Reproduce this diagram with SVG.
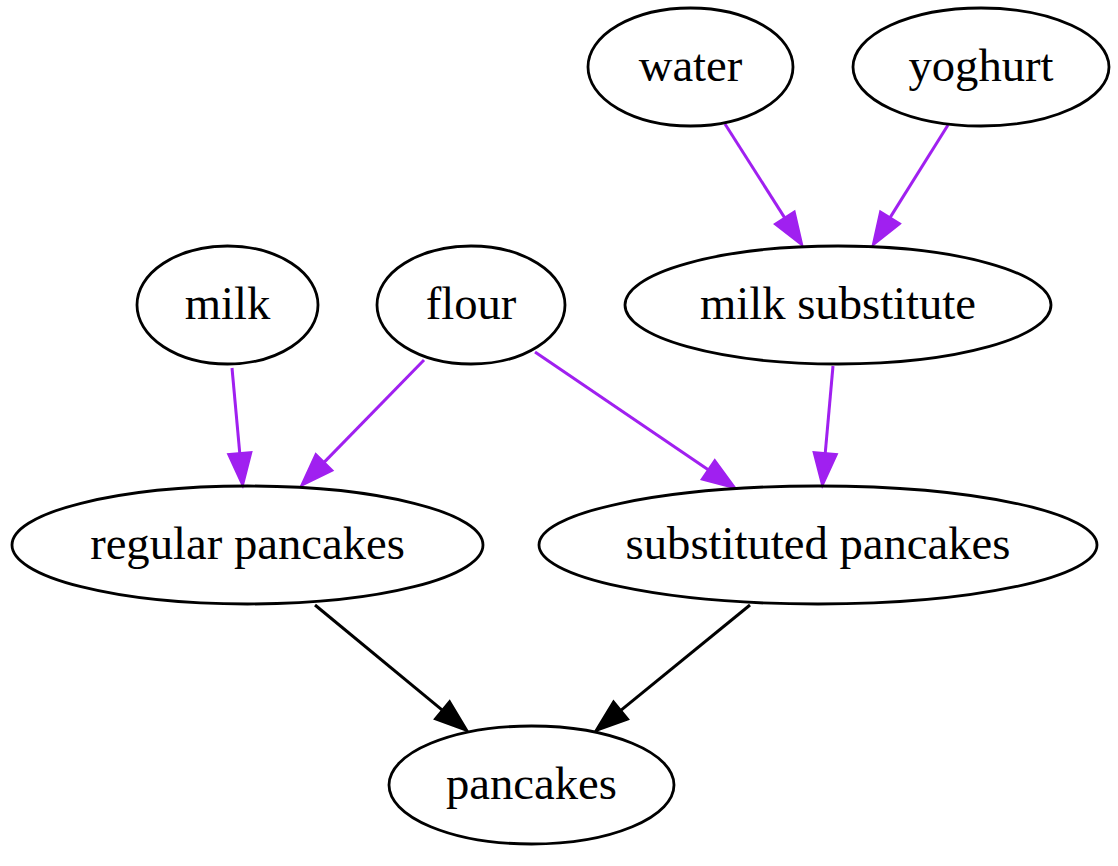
<svg xmlns="http://www.w3.org/2000/svg" width="1118" height="866" viewBox="0 0 1118 866">
<defs>
<style>
.n ellipse{fill:none;stroke:#000;stroke-width:2.8}
.n text{font-family:"Liberation Serif","Times New Roman",serif;font-size:46.67px;text-anchor:middle;fill:#000}
.e line{stroke-width:3}
.p{stroke:#a020f0}
.b{stroke:#000}
</style>
<marker id="ap" viewBox="0 0 31 24" refX="0" refY="12" markerWidth="31" markerHeight="24" markerUnits="userSpaceOnUse" orient="auto" overflow="visible"><path d="M0,1 L31,12 L0,23 z" fill="#a020f0" stroke="#a020f0" stroke-width="3" stroke-linejoin="miter"/></marker>
<marker id="ab" viewBox="0 0 31 24" refX="0" refY="12" markerWidth="31" markerHeight="24" markerUnits="userSpaceOnUse" orient="auto" overflow="visible"><path d="M0,1 L31,12 L0,23 z" fill="#000" stroke="#000" stroke-width="3" stroke-linejoin="miter"/></marker>
</defs>
<rect width="1118" height="866" fill="#fff"/>
<g id="edges" class="e">
<line class="p" x1="725" y1="124" x2="784.9" y2="218.1" marker-end="url(#ap)"/>
<line class="p" x1="948" y1="125" x2="889.9" y2="217.9" marker-end="url(#ap)"/>
<line class="p" x1="232" y1="368" x2="239.8" y2="453.6" marker-end="url(#ap)"/>
<line class="p" x1="424" y1="360" x2="323.8" y2="462.6" marker-end="url(#ap)"/>
<line class="p" x1="535" y1="352" x2="708.6" y2="470" marker-end="url(#ap)"/>
<line class="p" x1="833" y1="366" x2="825.2" y2="453.6" marker-end="url(#ap)"/>
<line class="b" x1="315" y1="605" x2="442.6" y2="710.4" marker-end="url(#ab)"/>
<line class="b" x1="750" y1="605" x2="620.5" y2="710.6" marker-end="url(#ab)"/>
</g>
<g id="water" class="n"><ellipse cx="690.5" cy="67" rx="102.5" ry="59"/><text x="690.5" y="81">water</text></g>
<g id="yoghurt" class="n"><ellipse cx="981" cy="67" rx="128" ry="59"/><text x="981" y="81">yoghurt</text></g>
<g id="milk_substitute" class="n"><ellipse cx="838" cy="305" rx="213" ry="59"/><text x="838" y="319">milk substitute</text></g>
<g id="milk" class="n"><ellipse cx="227.5" cy="305" rx="90.5" ry="59"/><text x="227.5" y="319">milk</text></g>
<g id="flour" class="n"><ellipse cx="471" cy="305" rx="94" ry="59"/><text x="471" y="319">flour</text></g>
<g id="regular_pancakes" class="n"><ellipse cx="247.5" cy="545" rx="235.5" ry="59"/><text x="247.5" y="559">regular pancakes</text></g>
<g id="substituted_pancakes" class="n"><ellipse cx="818" cy="545" rx="279" ry="59"/><text x="818" y="559">substituted pancakes</text></g>
<g id="pancakes" class="n"><ellipse cx="531.5" cy="785" rx="142.5" ry="59"/><text x="531.5" y="799">pancakes</text></g>
</svg>
